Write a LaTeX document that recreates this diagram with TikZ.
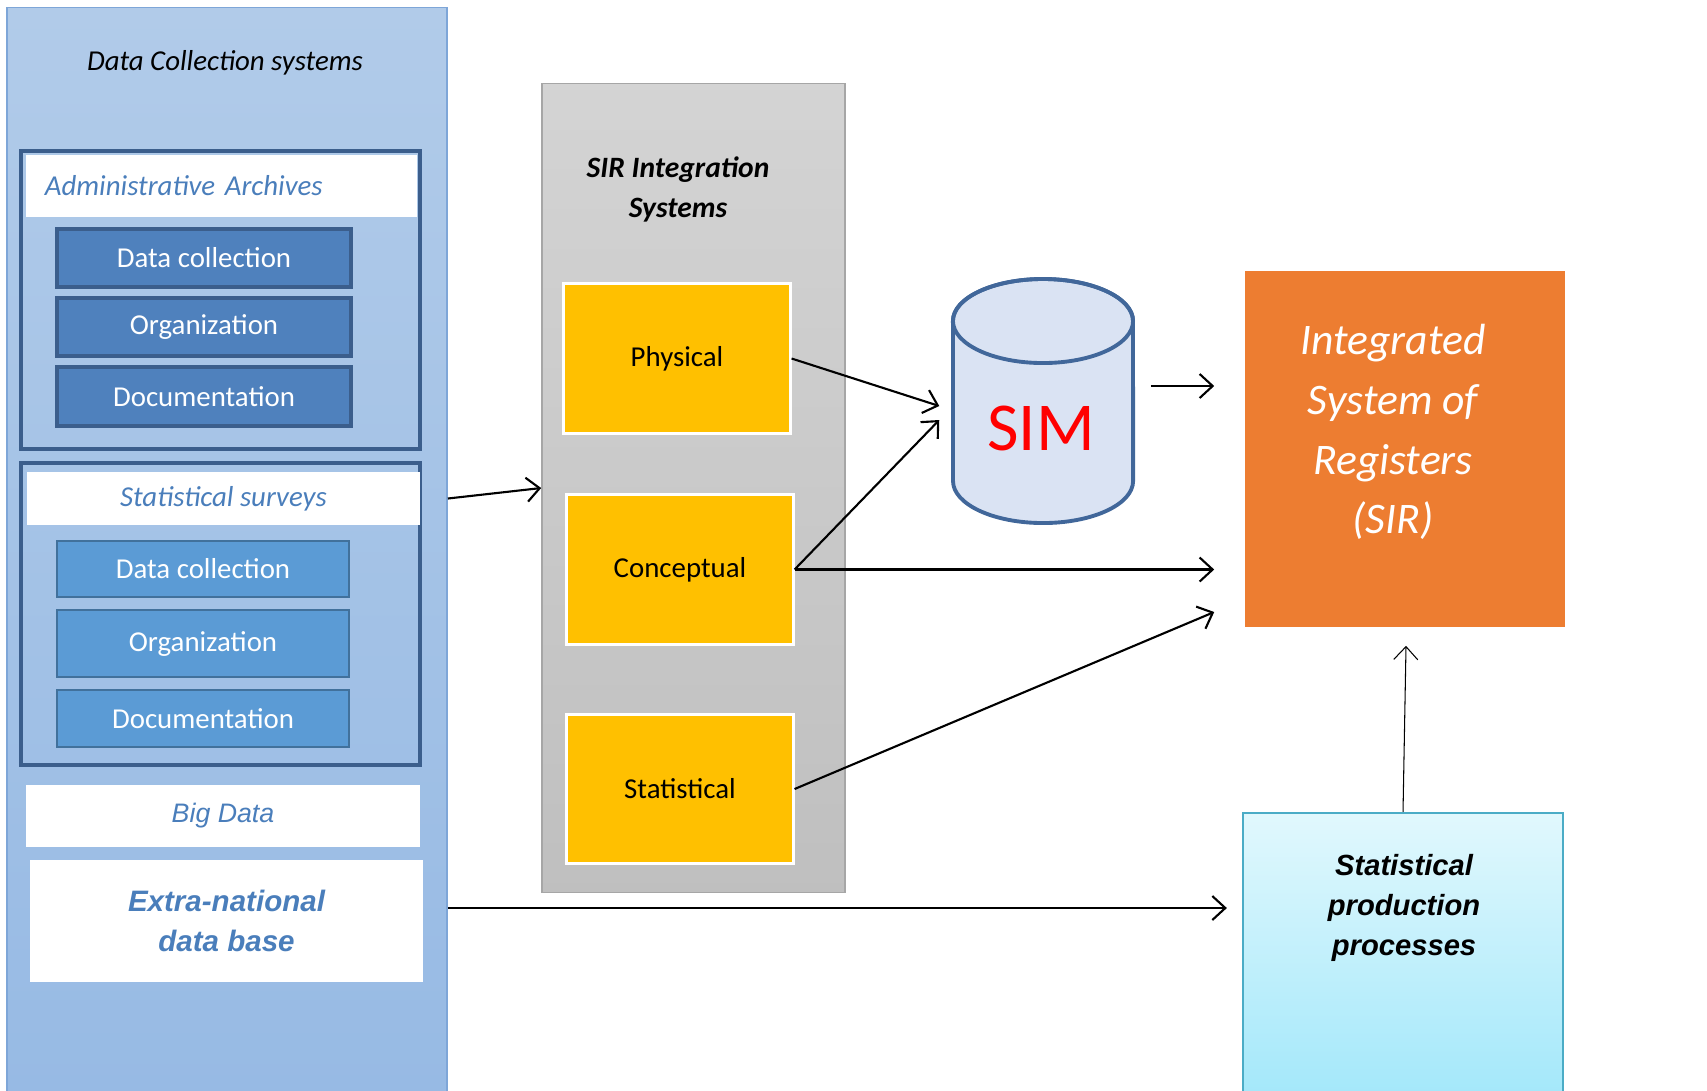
\documentclass[tikz,border=0pt]{standalone}
\usepackage{fontspec}
\setmainfont{Carlito}
\newfontfamily\arialfont{Liberation Sans}
\usetikzlibrary{calc,arrows.meta}
\definecolor{paneltop}{HTML}{B1CBE9}
\definecolor{panelbot}{HTML}{97BAE4}
\definecolor{paneledge}{HTML}{7EA6D8}
\definecolor{framedark}{HTML}{3B5E8C}
\definecolor{admfill}{HTML}{4F81BD}
\definecolor{ssvfill}{HTML}{5B9BD5}
\definecolor{ssvedge}{HTML}{41719C}
\definecolor{textblue}{HTML}{4A7EBB}
\definecolor{sisedge}{HTML}{A6A6A6}
\definecolor{yellowbox}{HTML}{FFC000}
\definecolor{simfill}{HTML}{DAE3F3}
\definecolor{simedge}{HTML}{41679A}
\definecolor{sirorange}{HTML}{ED7D31}
\definecolor{spptop}{HTML}{E1F8FD}
\definecolor{sppbot}{HTML}{A4E8FA}
\definecolor{sppedge}{HTML}{4BACC6}
\tikzset{
  txt/.style={font=\fontsize{8.2}{10}\selectfont},
  frame/.style={draw=framedark, line width=1.1pt, minimum width=3.99cm},
  header/.style={txt, fill=white, text=textblue, font=\fontsize{8.2}{10}\selectfont\itshape},
  admbox/.style={txt, fill=admfill, draw=framedark, line width=1.1pt, text=white, minimum width=2.94cm},
  ssvbox/.style={txt, fill=ssvfill, draw=ssvedge, line width=0.6pt, text=white, minimum width=2.92cm},
  sisbox/.style={txt, fill=yellowbox, draw=white, line width=0.85pt, minimum width=2.26cm, minimum height=1.49cm},
  arr/.style={-{Straight Barb[length=1.3mm, width=2.4mm]}, line width=0.6pt},
}
\begin{document}
\begin{tikzpicture}[x=0.01cm, y=-0.01cm]
			%%%%% START %%%%%
			\useasboundingbox (0,0) rectangle (1707,1090);
			
			% data collection systems
			\node[draw=paneledge, line width=0.4pt, top color=paneltop, bottom color=panelbot, minimum width=4.40cm, minimum height=10.87cm] (dcs) at (227,551.5) {};
			\node[txt, font=\fontsize{8.2}{10}\selectfont\itshape] (dcstitle) at (225,63) {Data Collection systems};
			
			\node[frame, minimum height=2.98cm] (admfr) at (220.5,300) {};
			\node[header, minimum width=3.91cm, minimum height=0.62cm, inner xsep=0.19cm, text width=3.53cm, align=left] (admhd) at (221.5,186) {Administrative Archives};
			\node[admbox, minimum height=0.58cm] (adm1) at (204,258) {Data collection};
			\node[admbox, minimum height=0.58cm] (adm2) at (204,327) {Organization};
			\node[admbox, minimum height=0.59cm] (adm3) at (204,396.5) {Documentation};
			
			\node[frame, minimum height=3.02cm] (ssvfr) at (220.5,614) {};
			\node[header, minimum width=3.93cm, minimum height=0.53cm] (ssvhd) at (223.5,498.5) {Statistical surveys};
			\node[ssvbox, minimum height=0.56cm] (ssv1) at (203,569) {Data collection};
			\node[ssvbox, minimum height=0.67cm] (ssv2) at (203,643.5) {Organization};
			\node[ssvbox, minimum height=0.57cm] (ssv3) at (203,718.5) {Documentation};
			
			\node[fill=white, text=textblue, font=\arialfont\fontsize{7.6}{10}\selectfont\itshape, minimum width=3.94cm, minimum height=0.62cm] (big) at (223,816) {Big Data};
			\node[fill=white, text=textblue, font=\arialfont\fontsize{8.4}{11.4}\selectfont\bfseries\itshape, align=center, minimum width=3.93cm, minimum height=1.22cm] (extra) at (226.5,921) {Extra-national\\data base};
			
			% SIR integration systems
			\node[draw=sisedge, line width=0.4pt, top color=black!17, bottom color=black!25, minimum width=3.03cm, minimum height=8.08cm] (sis) at (693.5,488) {};
			\node[txt, font=\fontsize{8.4}{11.4}\selectfont\bfseries\itshape, align=center] (sistitle) at (678,189) {SIR Integration\\Systems};
			\node[sisbox] (phys) at (677,358.5) {Physical};
			\node[sisbox] (conc) at (680,569.5) {Conceptual};
			\node[sisbox, minimum height=1.48cm] (stat) at (680,789) {Statistical};
			
			% SIM cylinder
			\node[minimum width=1.80cm, minimum height=2.44cm, inner sep=0pt] (sim) at (1043,401) {};
			\draw[draw=simedge, line width=1.1pt, fill=simfill] (953,321) -- (953,481) arc[start angle=180, end angle=360, x radius=0.9cm, y radius=0.42cm] -- (1133,321) arc[start angle=0, end angle=180, x radius=0.9cm, y radius=0.42cm] -- cycle;
			\draw[draw=simedge, line width=1.1pt] (1043,321) ellipse[x radius=0.9cm, y radius=0.42cm];
			\node[text=red, font=\fontsize{19.5}{22}\selectfont] (simtext) at (1041,428) {SIM};
			
			% SIR
			\node[fill=sirorange, minimum width=3.20cm, minimum height=3.56cm] (sir) at (1405,449) {};
			\node[text=white, font=\fontsize{12.4}{17}\selectfont\itshape, align=center] (sirtext) at (1393,432) {Integrated\\System of\\Registers\\(SIR)};
			
			% statistical production processes
			\node[draw=sppedge, line width=0.6pt, top color=spptop, bottom color=sppbot, minimum width=3.20cm, minimum height=2.82cm] (spp) at (1403,954) {};
			\node[font=\arialfont\fontsize{8.3}{11.4}\selectfont\bfseries\itshape, align=center] (spptext) at (1404,908) {Statistical\\production\\processes};
			
			% connectors
			\draw[arr] (dcs.east |- ssvhd.east) -- (sis.west);
			\draw[arr] (phys.east) -- ($(sim.west)+(-13,5)$);
			\draw[arr] (conc.east) -- ($(sim.west)+(-13,19)$);
			\draw[arr, shorten >=0.3cm] (conc.east) -- (sir.west |- conc.east);
			\draw[arr] (stat.east) -- ($(sir.west)+(-30,163)$);
			\draw[arr] ($(sim.east)+(17,-15)$) -- ($(sir.west)+(-30,-63)$);
			\draw[arr, shorten >=0.15cm] (dcs.east |- spptext) -- (spp.west |- spptext);
			\draw[arr, line width=0.3pt] (spp.north) -- ($(sir.south)+(1,18)$);
			%%%%% END %%%%%
\end{tikzpicture}
\end{document}
